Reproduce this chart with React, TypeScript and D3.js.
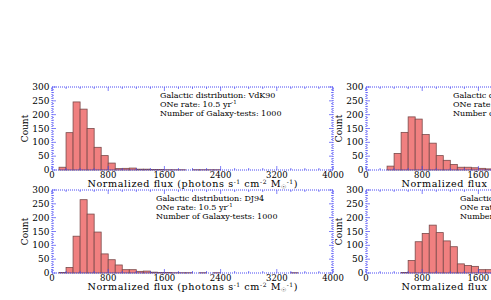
import React from "react";
import * as d3 from "d3";

// ---- data ----
const binWidth = 100; // flux units per histogram bin, bins start at 0
const countsTopLeft = [0, 10, 135, 246, 220, 150, 82, 52, 25, 5, 6, 7, 3, 3, 2, 2, 1, 1, 1, 0, 1, 1, 1, 1];
const countsBottomLeft = [0, 2, 20, 133, 265, 213, 148, 69, 48, 29, 12, 12, 6, 7, 3, 2, 2, 1, 1, 1, 0, 1, 0, 1, 0, 0, 0, 0, 0, 0, 0, 0, 0, 0, 1];
const countsTopRight = [0, 0, 0, 14, 60, 136, 192, 184, 128, 97, 52, 35, 20, 10, 10, 8, 6, 4, 3, 2, 2, 1, 1];
const countsBottomRight = [0, 0, 0, 0, 0, 2, 45, 113, 143, 173, 146, 116, 95, 33, 27, 24, 12, 12, 8, 5, 4, 3, 2];
const xTicks = [0, 800, 1600, 2400, 3200, 4000];
const yTicks = [0, 50, 100, 150, 200, 250, 300];
const distributions = ["VdK90", "DJ94"];
const rateText = "ONe rate: 10.5 yr";
const testsText = "Number of Galaxy-tests: 1000";

const FONT = "'DejaVu Serif', serif";
const BLUE = "#4a4af5";

type PanelProps = {
  left: number;
  top: number;
  width: number;
  height: number;
  counts: number[];
  dist: string;
  textDx: number;
};

function Panel({ left, top, width, height, counts, dist, textDx }: PanelProps) {
  const x = d3.scaleLinear().domain([0, 4000]).range([left, left + width]);
  const y = d3.scaleLinear().domain([0, 300]).range([top + height, top]);
  const bottom = top + height;
  const right = left + width;
  const minorX = d3.range(0, 4001, 200);
  const minorY = d3.range(0, 301, 10);
  return (
    <g>
      {counts.map((c, i) =>
        c > 0 ? (
          <rect
            key={i}
            x={x(i * binWidth)}
            y={y(c)}
            width={x((i + 1) * binWidth) - x(i * binWidth)}
            height={bottom - y(c)}
            fill="#f08080"
            stroke="#7a4a4a"
            strokeWidth={0.8}
          />
        ) : null
      )}
      {/* frame */}
      <rect x={left} y={top} width={width} height={height} fill="none" stroke={BLUE} strokeWidth={1} strokeDasharray="1,1" />
      {/* ticks */}
      {minorX.map((v) => {
        const len = v % 800 === 0 ? 4 : 2;
        return (
          <g key={"tx" + v}>
            <line x1={x(v)} x2={x(v)} y1={bottom} y2={bottom - len} stroke={BLUE} strokeWidth={0.7} />
            <line x1={x(v)} x2={x(v)} y1={top} y2={top + len} stroke={BLUE} strokeWidth={0.7} />
          </g>
        );
      })}
      {minorY.map((v) => {
        const len = v % 50 === 0 ? 4 : 2;
        return (
          <g key={"ty" + v}>
            <line x1={left} x2={left + len} y1={y(v)} y2={y(v)} stroke={BLUE} strokeWidth={0.7} />
            <line x1={right} x2={right - len} y1={y(v)} y2={y(v)} stroke={BLUE} strokeWidth={0.7} />
          </g>
        );
      })}
      {/* y tick labels */}
      {yTicks.map((v) => (
        <text key={"yl" + v} x={left - 2.5} y={y(v) + 3} textAnchor="end" fontSize={9} fontFamily={FONT} fill="#000">
          {v}
        </text>
      ))}
      {/* x tick labels */}
      {xTicks.map((v) => (
        <text key={"xl" + v} x={x(v)} y={bottom + 7.5} textAnchor="middle" fontSize={8.5} fontFamily={FONT} fill="#000">
          {v}
        </text>
      ))}
      {/* y title */}
      <text
        transform={`translate(${left - 24},${(top + bottom) / 2}) rotate(-90)`}
        textAnchor="middle"
        fontSize={9}
        fontFamily={FONT}
        fill="#000"
      >
        Count
      </text>
      {/* x title */}
      <text
        x={(left + right) / 2 - 105}
        y={bottom + 17}
        fontSize={9.6}
        fontFamily={FONT}
        fill="#000"
        textLength={210}
        lengthAdjust="spacing"
      >
        <tspan>Normalized flux (photons s</tspan>
        <tspan dy={-3.5} fontSize={6}>-1</tspan>
        <tspan dy={3.5}> cm</tspan>
        <tspan dy={-3.5} fontSize={6}>-2</tspan>
        <tspan dy={3.5}> M</tspan>
        <tspan dy={2} fontSize={6}>☉</tspan>
        <tspan dy={-5.5} fontSize={6}>-1</tspan>
        <tspan dy={3.5}>)</tspan>
      </text>
      {/* annotations */}
      <text x={left + textDx} y={top + 11} fontSize={8} fontFamily={FONT} fill="#000">
        {"Galactic distribution: " + dist}
      </text>
      <text x={left + textDx} y={top + 20} fontSize={8} fontFamily={FONT} fill="#000">
        <tspan>{rateText}</tspan>
        <tspan dy={-3} fontSize={5.5}>-1</tspan>
      </text>
      <text x={left + textDx} y={top + 29} fontSize={8} fontFamily={FONT} fill="#000">
        {testsText}
      </text>
    </g>
  );
}

export default function App() {
  const W = 491;
  const H = 300;
  const pw = 281;
  const ph = 83;
  return (
    <div style={{ position: "fixed", left: 0, top: 0, width: W, height: H, overflow: "hidden", background: "#fff" }}>
      <svg width={W} height={H} style={{ display: "block", overflow: "hidden" }}>
        <rect width={W} height={H} fill="#fff" />
        <Panel left={52} top={87} width={pw} height={ph} counts={countsTopLeft} dist={distributions[0]} textDx={108} />
        <Panel left={52} top={190} width={pw} height={ph} counts={countsBottomLeft} dist={distributions[1]} textDx={104} />
        <Panel left={366} top={87} width={pw} height={ph} counts={countsTopRight} dist={distributions[0]} textDx={87} />
        <Panel left={366} top={190} width={pw} height={ph} counts={countsBottomRight} dist={distributions[1]} textDx={94} />
      </svg>
    </div>
  );
}
